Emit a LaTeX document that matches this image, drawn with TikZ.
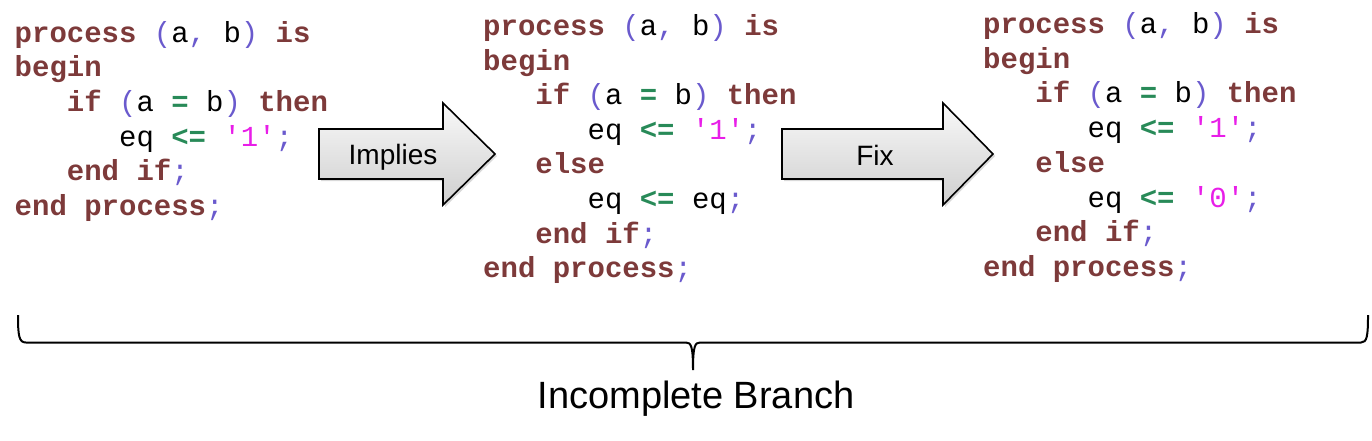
\documentclass[tikz,border=0pt]{standalone}
\usepackage{fontspec}
\setmainfont{Liberation Sans}
\newfontfamily\codefont{Liberation Mono}
\usetikzlibrary{shadows}

\definecolor{kwred}{RGB}{125,58,58}
\definecolor{punblue}{RGB}{106,90,205}
\definecolor{opgreen}{RGB}{40,138,88}
\definecolor{litpink}{RGB}{232,30,232}

\newcommand{\kw}[1]{\textcolor{kwred}{\bfseries #1}}
\newcommand{\pn}[1]{\textcolor{punblue}{#1}}
\newcommand{\opr}[1]{\textcolor{opgreen}{\bfseries #1}}
\newcommand{\lit}[1]{\textcolor{litpink}{#1}}

\begin{document}
\begin{tikzpicture}[x=1pt, y=-1pt,
	code/.style={anchor=base west, inner sep=0pt, font=\codefont\fontsize{29}{35}\selectfont},
	arrowbox/.style={draw=black, line width=1.6pt, top color=gray!5, bottom color=gray!38,
		drop shadow={shadow xshift=2pt, shadow yshift=-2pt, opacity=0.3}},
	arrowtext/.style={anchor=base, inner sep=0pt, font=\fontsize{28}{34}\selectfont},
	bracelabel/.style={anchor=base, inner sep=0pt, font=\fontsize{38}{46}\selectfont}]
	\useasboundingbox (0,0) rectangle (1372,440);
	
	% original
	\node[code] (a1) at (14.5,42) {\kw{process} \pn{(}a\pn{,} b\pn{)} \kw{is}};
	\node[code] (a2) at (14.5,76.7) {\kw{begin}};
	\node[code] (a3) at (66.7,111.4) {\kw{if} \pn{(}a \opr{=} b\pn{)} \kw{then}};
	\node[code] (a4) at (118.9,146.1) {eq \opr{<=} \lit{'1'}\pn{;}};
	\node[code] (a5) at (66.7,180.8) {\kw{end if}\pn{;}};
	\node[code] (a6) at (14.5,215.5) {\kw{end process}\pn{;}};
	
	% implied
	\node[code] (b1) at (483,35.5) {\kw{process} \pn{(}a\pn{,} b\pn{)} \kw{is}};
	\node[code] (b2) at (483,70.1) {\kw{begin}};
	\node[code] (b3) at (535.2,104.7) {\kw{if} \pn{(}a \opr{=} b\pn{)} \kw{then}};
	\node[code] (b4) at (587.4,139.3) {eq \opr{<=} \lit{'1'}\pn{;}};
	\node[code] (b5) at (535.2,173.9) {\kw{else}};
	\node[code] (b6) at (587.4,208.5) {eq \opr{<=} eq\pn{;}};
	\node[code] (b7) at (535.2,243.1) {\kw{end if}\pn{;}};
	\node[code] (b8) at (483,277.7) {\kw{end process}\pn{;}};
	
	% fixed
	\node[code] (c1) at (983,33.5) {\kw{process} \pn{(}a\pn{,} b\pn{)} \kw{is}};
	\node[code] (c2) at (983,68.2) {\kw{begin}};
	\node[code] (c3) at (1035.2,102.9) {\kw{if} \pn{(}a \opr{=} b\pn{)} \kw{then}};
	\node[code] (c4) at (1087.4,137.6) {eq \opr{<=} \lit{'1'}\pn{;}};
	\node[code] (c5) at (1035.2,172.3) {\kw{else}};
	\node[code] (c6) at (1087.4,207) {eq \opr{<=} \lit{'0'}\pn{;}};
	\node[code] (c7) at (1035.2,241.7) {\kw{end if}\pn{;}};
	\node[code] (c8) at (983,276.4) {\kw{end process}\pn{;}};
	
	% block arrows
	\path[arrowbox] (319,129) -- (443,129) -- (443,103) -- (495,154) -- (443,205) -- (443,179) -- (319,179) -- cycle;
	\node[arrowtext] (implies) at (393,164.5) {Implies};
	
	\path[arrowbox] (782,129) -- (943,129) -- (943,103) -- (993,154) -- (943,205) -- (943,179) -- (782,179) -- cycle;
	\node[arrowtext] (fix) at (875,165) {Fix};
	
	% brace
	\draw[line width=2pt] (18,315) .. controls (18,336) and (19,342.5) .. (26,342.5) -- (686,342.5)
		.. controls (691,342.5) and (693,346) .. (693,370)
		.. controls (693,346) and (695,342.5) .. (700,342.5) -- (1361,342.5)
		.. controls (1367,342.5) and (1368,336) .. (1368,315);
	\node[bracelabel] (branch) at (696,408) {Incomplete Branch};
	
\end{tikzpicture}
\end{document}
